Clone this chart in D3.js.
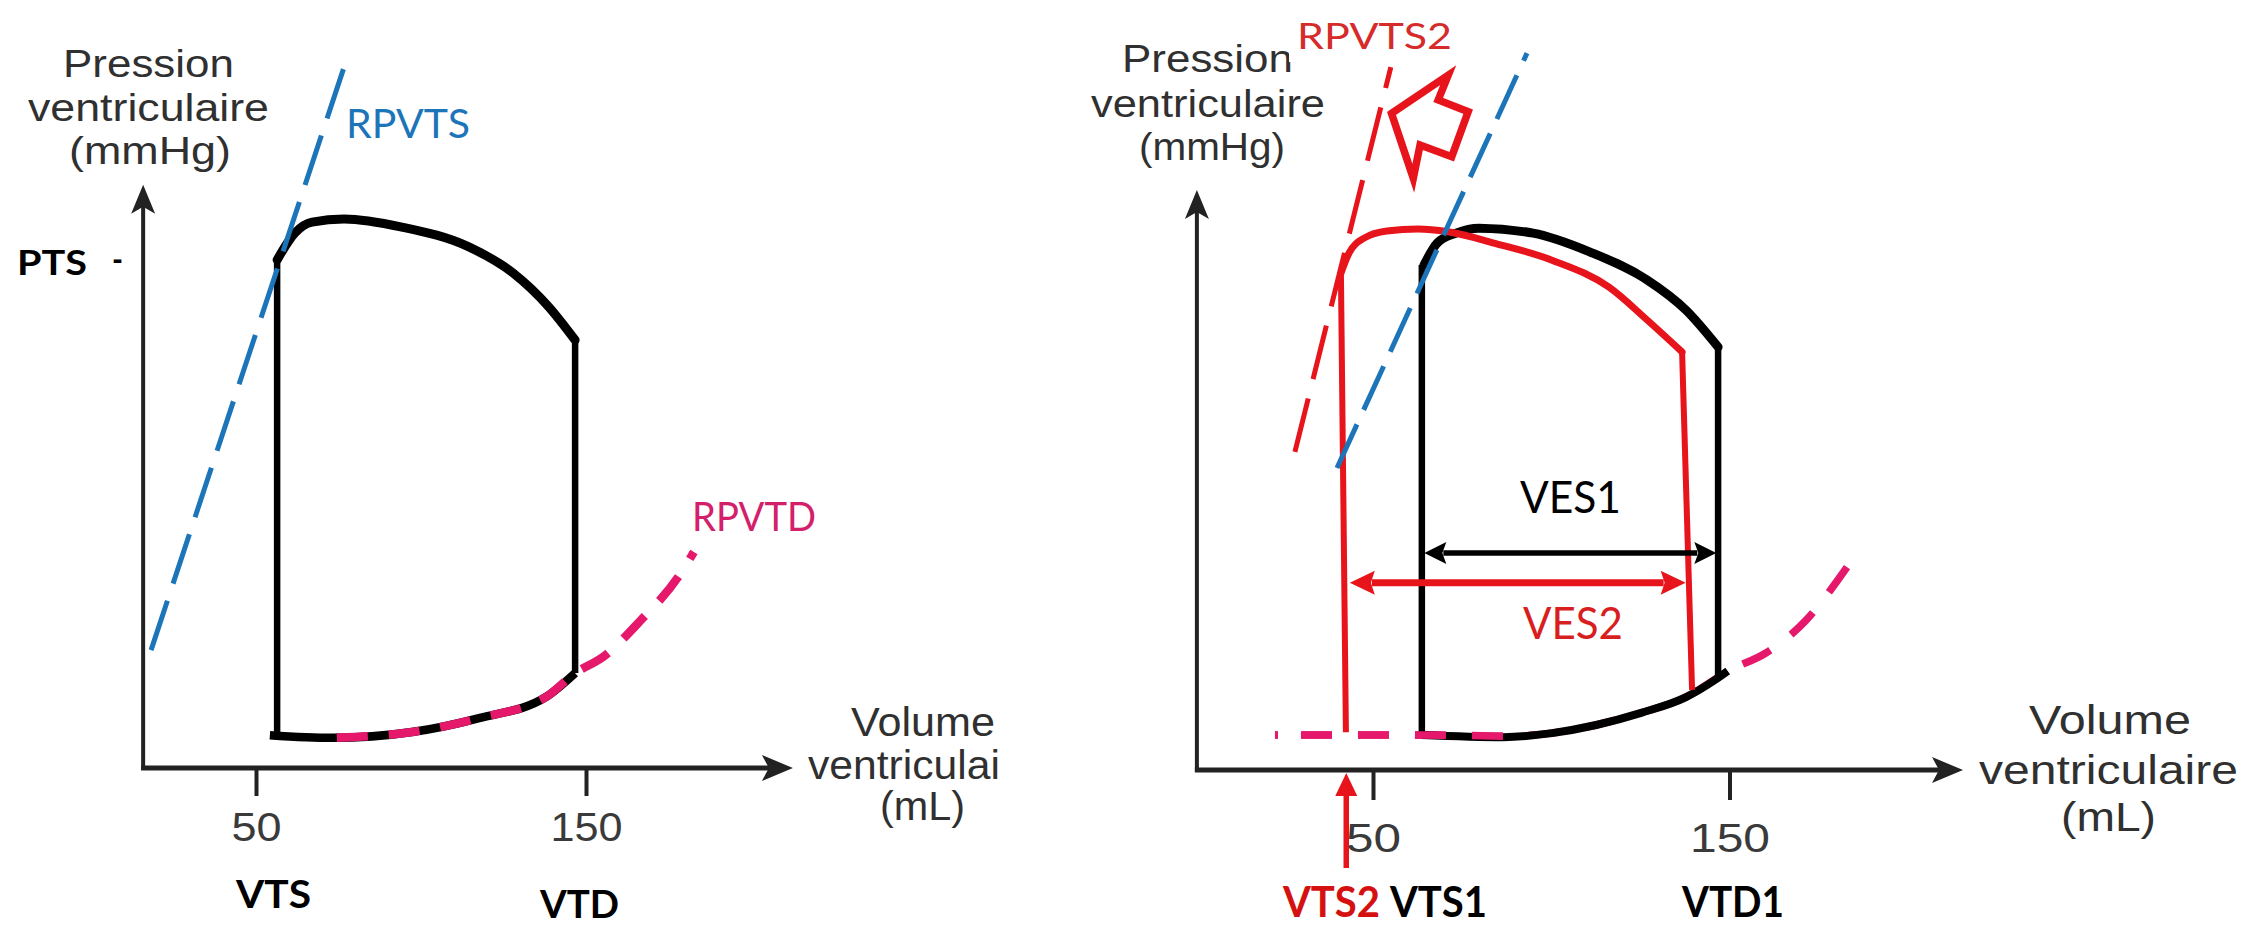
<!DOCTYPE html>
<html><head><meta charset="utf-8">
<script src="https://cdn.jsdelivr.net/npm/d3@7"></script>
<style>html,body{margin:0;padding:0;background:#fff;} svg{display:block;}</style>
</head><body><svg id="chart" width="2262" height="926"></svg>
<script>
// ================= DATA (volume mL, pressure mmHg) =================
const volumeTicks = [50, 150];
const tickLabels = ["50", "150"];

// ---- Left panel : single loop ----
const leftVolumeAxis = [15.8, 212.7];
const leftPressureAxis = [0, 129.6];
const loopBottom = [[54.2,7.3],[73,6.7],[97.3,8.0],[117.6,11.1],[137.9,15.8],[146.7,21.1]];
const loopTop = [[56.4,112.9],[61.8,118.9],[67,121.3],[76.7,122],[94.2,120.2],[114.5,115.8],[127.9,110],[138.8,102.4],[146.7,95.1]];
const loopVolumes = [56.4, 146.7];          // VTS, VTD
const loopVerticalBase = [7.3, 21.1];       // pressure at bottom of each vertical
const pts = 113;                            // PTS level
const rpvtsLeft = [[18.2,26.2],[76.7,155.8]];
const rpvtdLeft = [[74.5,6.7],[97.3,8.0],[117.6,11.1],[137.9,15.8],[146.7,21.1],[155.2,24.7],[166.7,32.9],[177.9,42.4],[182.7,48]];

// ---- Right panel : two loops ----
const rightVolumeAxis = [0.6, 215.5];
const rightPressureAxis = [0, 128.9];
const loop1Bottom = [[63.7,7.8],[86.5,7.3],[100.2,8.2],[112.6,10],[125.2,12.7],[137.8,16.2],[145.9,20],[149.5,22]];
const loop1Top = [[64.3,112.2],[68,117.1],[73.3,119.3],[79.7,120.4],[94.9,119.3],[110.9,115.1],[126.9,108.9],[137.8,102.2],[146.8,94]];
const loop1Volumes = [63.7, 146.8];         // VTS1, VTD1
const loop1VerticalBase = [7.8, 20.7];
const loop2Left = [[42.4,8.4],[41.0,110.4]];
const loop2Top = [[41.0,110.4],[43.3,114.9],[47.5,118.2],[53.9,119.8],[62.6,120.2],[71,119.6],[83.9,117.1],[100.2,113.3],[116.2,107.3],[126.9,100],[136.7,92.9]];
const loop2Right = [[136.7,92.9],[139.5,17.8]];
const rpvtsRight = [[39.9,67.1],[93.2,159.3]];
const rpvts2 = [[28.1,70.7],[55.0,156.2]];
const rpvtdRight = [[22.5,7.8],[60,7.8],[86.5,7.5],[100.2,8.2],[112.6,10],[125.2,12.7],[137.8,16.2],[150.1,22.2],[160.2,26],[171.5,33.3],[181,42.9],[185.8,48.4]];
const ves1 = [64.4, 146.3];
const ves1Level = 48.2;
const ves2 = [43.5, 137.7];
const ves2Level = 41.6;
const vts2 = 42.5;
const shiftArrow = [[55.2,145.9],[71.1,154.4],[68.3,148.9],[76.7,146.3],[72.1,136.3],[63.2,138.9],[61.3,131.5]];

// ================= DRAWING =================
const svg = d3.select('#chart');
const SANS = "'Liberation Sans', Arial, sans-serif";
const LBL = "Lato, 'Open Sans', sans-serif";
const BLACK = "#000", AXIS = "#222", BLUE = "#1c74b9", RED = "#e8141c", PINK = "#e5186c";

const xL = d3.scaleLinear().domain([50,150]).range([256,586]);
const yL = d3.scaleLinear().domain([0,100]).range([768,318]);
const xR = d3.scaleLinear().domain([50,150]).range([1373,1729.5]);
const yR = d3.scaleLinear().domain([0,100]).range([770,320]);

function text(g, s, x, y, o) {
  const t = g.append('text').attr('x', x).attr('y', y).text(s)
    .attr('font-family', o.family || SANS).attr('font-size', o.size)
    .attr('font-weight', o.weight || 'normal').attr('fill', o.fill || '#303030')
    .attr('text-anchor', o.anchor || 'start');
  if (o.w) t.attr('textLength', o.w).attr('lengthAdjust', 'spacingAndGlyphs');
  return t;
}
function head(g, tip, dir, len, hw, notch, color) {
  const n = Math.hypot(dir[0], dir[1]); const d = [dir[0]/n, dir[1]/n]; const p = [-d[1], d[0]];
  const b = [tip[0]-d[0]*len, tip[1]-d[1]*len];
  const pts = [tip, [b[0]+p[0]*hw, b[1]+p[1]*hw], [b[0]+d[0]*notch, b[1]+d[1]*notch], [b[0]-p[0]*hw, b[1]-p[1]*hw]];
  g.append('path').attr('d', 'M' + pts.map(q => q.join(',')).join('L') + 'Z').attr('fill', color);
}

function drawAxes(g, x, y, vAx, pAx, tickLen, pad, tickW) {
  const x0 = x(vAx[0]), y0 = y(0), xt = x(vAx[1]), yt = y(pAx[1]);
  g.append('line').attr('x1', x0).attr('y1', y0 + 2).attr('x2', x0).attr('y2', yt + 20)
    .attr('stroke', AXIS).attr('stroke-width', 4);
  g.append('line').attr('x1', x0 - 2).attr('y1', y0).attr('x2', xt - 20).attr('y2', y0)
    .attr('stroke', AXIS).attr('stroke-width', 5);
  head(g, [x0, yt], [0, -1], 29, 12, 7, AXIS);
  head(g, [xt, y0], [1, 0], 31, 13, 7, AXIS);
  const ax = g.append('g').attr('transform', `translate(0,${y0})`)
    .call(d3.axisBottom(x).tickValues(volumeTicks).tickFormat((d, i) => tickLabels[i]).tickSize(tickLen).tickPadding(pad));
  ax.select('.domain').remove();
  ax.selectAll('.tick line').attr('stroke', AXIS).attr('stroke-width', 4);
  ax.selectAll('.tick text').attr('font-size', 40).attr('font-family', SANS).attr('fill', '#3a3a3a')
    .attr('textLength', (d, i) => tickW[i]).attr('lengthAdjust', 'spacingAndGlyphs');
}

// ---------- LEFT PANEL ----------
const gL = svg.append('g');
drawAxes(gL, xL, yL, leftVolumeAxis, leftPressureAxis, 28, 17, [50, 72]);
const curveL = d3.line().x(d => xL(d[0])).y(d => yL(d[1])).curve(d3.curveMonotoneX);
const straightL = d3.line().x(d => xL(d[0])).y(d => yL(d[1]));

// loop
gL.append('path').attr('d', straightL([[loopVolumes[0], loopVerticalBase[0]], [loopVolumes[0], loopTop[0][1]]]))
  .attr('stroke', BLACK).attr('stroke-width', 6.5).attr('fill', 'none');
gL.append('path').attr('d', straightL([[loopVolumes[1], loopVerticalBase[1]], [loopVolumes[1], loopTop[loopTop.length-1][1]]]))
  .attr('stroke', BLACK).attr('stroke-width', 6.5).attr('fill', 'none');
gL.append('path').attr('d', curveL(loopTop)).attr('stroke', BLACK).attr('stroke-width', 9).attr('fill', 'none').attr('stroke-linecap', 'round');
gL.append('path').attr('d', curveL(loopBottom)).attr('stroke', BLACK).attr('stroke-width', 8.5).attr('fill', 'none');
// relations
gL.append('path').attr('d', straightL(rpvtsLeft)).attr('stroke', BLUE).attr('stroke-width', 5)
  .attr('stroke-dasharray', '52,18').attr('fill', 'none');
gL.append('path').attr('d', curveL(rpvtdLeft)).attr('stroke', PINK).attr('stroke-width', 8.5)
  .attr('stroke-dasharray', '31,21').attr('fill', 'none');

// texts
text(gL, 'Pression', 63, 77, {size: 38, w: 171});
text(gL, 'ventriculaire', 28, 121, {size: 38, w: 241});
text(gL, '(mmHg)', 69, 164, {size: 38, w: 162});
text(gL, 'PTS', 17, yL(pts) + 15, {size: 34, weight: 'bold', fill: BLACK, family: LBL, w: 70});
text(gL, '-', 112, yL(pts) + 12, {size: 34, weight: 'bold', fill: BLACK, family: LBL, w: 11});
text(gL, 'RPVTS', 346, 138, {size: 40, fill: BLUE, family: LBL, w: 124});
text(gL, 'RPVTD', 692, 531, {size: 40, fill: '#d4206a', family: LBL, w: 124});
text(gL, 'Volume', 851, 736, {size: 40, w: 144});
text(gL, 'ventriculai', 808, 779, {size: 40, w: 192});
text(gL, '(mL)', 880, 820, {size: 40, w: 85});
text(gL, 'VTS', 236, 908, {size: 38, weight: 'bold', fill: BLACK, family: LBL, w: 75});
text(gL, 'VTD', 540, 918, {size: 38, weight: 'bold', fill: BLACK, family: LBL, w: 79});

// ---------- RIGHT PANEL ----------
const gR = svg.append('g');
drawAxes(gR, xR, yR, rightVolumeAxis, rightPressureAxis, 30, 24, [55, 80]);
const curveR = d3.line().x(d => xR(d[0])).y(d => yR(d[1])).curve(d3.curveMonotoneX);
const straightR = d3.line().x(d => xR(d[0])).y(d => yR(d[1]));

text(gR, 'Pression', 1122, 72, {size: 38, w: 171});
text(gR, 'ventriculaire', 1091, 117, {size: 38, w: 234});
text(gR, '(mmHg)', 1139, 160, {size: 38, w: 146});

// RPVTD (under loop 1)
gR.append('path').attr('d', curveR(rpvtdRight)).attr('stroke', PINK).attr('stroke-width', 7.5)
  .attr('stroke-dasharray', '3,23,31,26,31,26,31,26,31,26,31,26,31,26,31,26,31,26,31,26,31,26,31,26,31,26,31,26').attr('fill', 'none');
// loop 1 (black)
gR.append('path').attr('d', straightR([[loop1Volumes[0], loop1VerticalBase[0]], [loop1Volumes[0], loop1Top[0][1]]]))
  .attr('stroke', BLACK).attr('stroke-width', 6.5).attr('fill', 'none');
gR.append('path').attr('d', straightR([[loop1Volumes[1], loop1VerticalBase[1]], [loop1Volumes[1], loop1Top[loop1Top.length-1][1]]]))
  .attr('stroke', BLACK).attr('stroke-width', 6.5).attr('fill', 'none');
gR.append('path').attr('d', curveR(loop1Top)).attr('stroke', BLACK).attr('stroke-width', 9).attr('fill', 'none').attr('stroke-linecap', 'round');
gR.append('path').attr('d', curveR(loop1Bottom)).attr('stroke', BLACK).attr('stroke-width', 8).attr('fill', 'none');
// pink flat part on top of black
gR.append('path').attr('d', curveR(rpvtdRight.filter(d => d[0] <= 87))).attr('stroke', PINK).attr('stroke-width', 7.5)
  .attr('stroke-dasharray', '3,23,31,26,31,26,31,26,31,26,31,26,31,26').attr('fill', 'none');
// loop 2 (red)
gR.append('path').attr('d', straightR(loop2Left)).attr('stroke', RED).attr('stroke-width', 6).attr('fill', 'none');
gR.append('path').attr('d', straightR(loop2Right)).attr('stroke', RED).attr('stroke-width', 6).attr('fill', 'none');
gR.append('path').attr('d', curveR(loop2Top)).attr('stroke', RED).attr('stroke-width', 7).attr('fill', 'none').attr('stroke-linecap', 'round');
// relations
gR.append('path').attr('d', straightR(rpvts2)).attr('stroke', RED).attr('stroke-width', 5)
  .attr('stroke-dasharray', '55,20').attr('fill', 'none');
gR.append('path').attr('d', straightR(rpvtsRight)).attr('stroke', BLUE).attr('stroke-width', 5)
  .attr('stroke-dasharray', '48,16').attr('fill', 'none');
// shift arrow
gR.append('path').attr('d', straightR(shiftArrow) + 'Z').attr('stroke', RED).attr('stroke-width', 7.5)
  .attr('fill', 'none').attr('stroke-linejoin', 'miter');

// VES arrows
function dbl(g, x, y, range, level, color, sw, len, hw) {
  const a = x(range[0]), b = x(range[1]), yy = y(level);
  g.append('line').attr('x1', a + len - 3).attr('x2', b - len + 3).attr('y1', yy).attr('y2', yy)
    .attr('stroke', color).attr('stroke-width', sw);
  head(g, [a, yy], [-1, 0], len, hw, 4, color);
  head(g, [b, yy], [1, 0], len, hw, 4, color);
}
dbl(gR, xR, yR, ves1, ves1Level, BLACK, 5.5, 22, 11);
dbl(gR, xR, yR, ves2, ves2Level, RED, 7, 25, 12);
text(gR, 'VES1', 1520, 513, {size: 44, fill: BLACK, family: LBL, w: 101});
text(gR, 'VES2', 1523, 639, {size: 44, fill: '#d81e1e', family: LBL, w: 100});

// VTS2 arrow
const xv = xR(vts2);
gR.append('line').attr('x1', xv).attr('x2', xv).attr('y1', 868).attr('y2', yR(0) + 20)
  .attr('stroke', RED).attr('stroke-width', 5.5);
head(gR, [xv, yR(0) + 3], [0, -1], 23, 11, 0, RED);

// RPVTS2 label with white background
gR.append('rect').attr('x', 1289).attr('y', 4).attr('width', 172).attr('height', 58).attr('fill', '#fff');
text(gR, 'RPVTS2', 1297, 49, {size: 36, fill: '#d62b2b', family: LBL, w: 155});

text(gR, 'Volume', 2029, 734, {size: 40, w: 162});
text(gR, 'ventriculaire', 1979, 784, {size: 40, w: 259});
text(gR, '(mL)', 2061, 831, {size: 40, w: 95});
text(gR, 'VTS2', 1283, 917, {size: 42, weight: 'bold', fill: '#d41010', family: LBL, w: 97});
text(gR, 'VTS1', 1390, 917, {size: 42, weight: 'bold', fill: BLACK, family: LBL, w: 97});
text(gR, 'VTD1', 1682, 917, {size: 42, weight: 'bold', fill: BLACK, family: LBL, w: 102});
</script></body></html>
